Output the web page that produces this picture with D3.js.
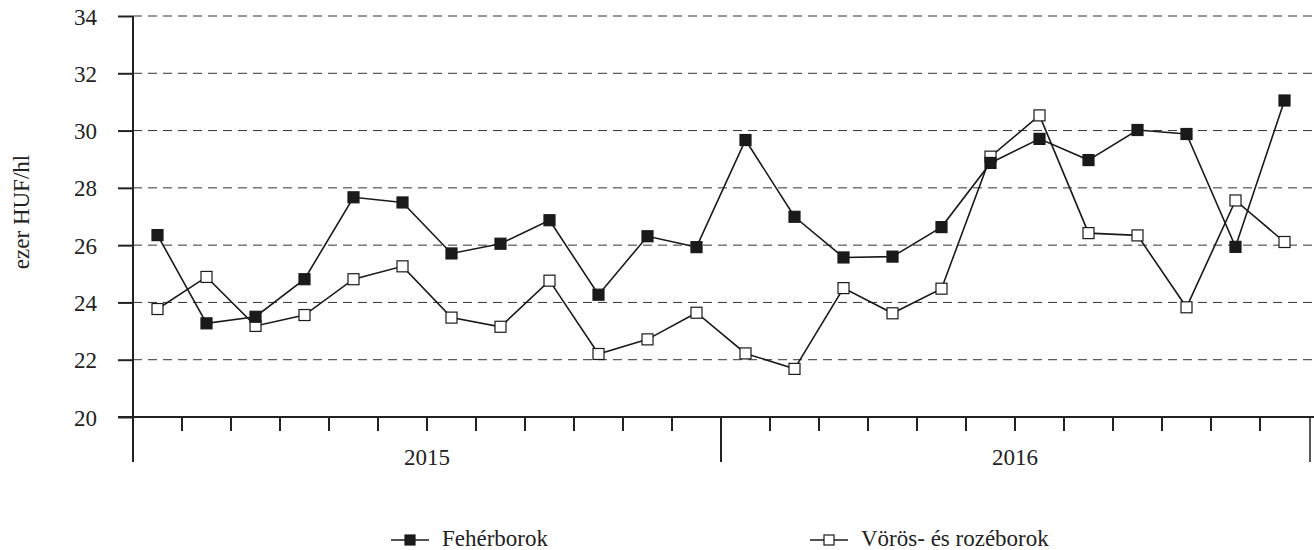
<!DOCTYPE html>
<html>
<head>
<meta charset="utf-8">
<script src="https://d3js.org/d3.v7.min.js"></script>
<style>
  body { margin: 0; background: #fff; }
  svg text { font-family: "Liberation Serif", "Times New Roman", serif; fill: #222; }
</style>
</head>
<body>
<script>
const years = ["2015", "2016"];
const months = d3.range(24);
const yTicks = [20, 22, 24, 26, 28, 30, 32, 34];
const feherborok = [26.35, 23.27, 23.5, 24.81, 27.67, 27.49, 25.71, 26.05, 26.87, 24.27, 26.31, 25.93,
                    29.67, 26.99, 25.57, 25.6, 26.63, 28.87, 29.71, 28.97, 30.02, 29.88, 25.94, 31.05];
const voros = [23.77, 24.89, 23.18, 23.56, 24.81, 25.26, 23.47, 23.15, 24.76, 22.2, 22.71, 23.64,
               22.22, 21.68, 24.5, 23.62, 24.48, 29.09, 30.53, 26.42, 26.34, 23.83, 27.56, 26.11];
const seriesNames = ["Fehérborok", "Vörös- és rozéborok"];

const w = 1314, h = 550;
const padLeft = 133, padRight = 1309, padTop = 16, padBottom = 417;
const font = "'Liberation Serif', 'Times New Roman', serif";
const fs = 23;

const svg = d3.select("body").append("svg").attr("width", w).attr("height", h)
  .attr("font-family", font);

const x = d3.scaleBand().domain(months).range([padLeft, padRight]);
const y = d3.scaleLinear().domain([20, 34]).range([padBottom, padTop]);

// gridlines
svg.append("g")
  .selectAll("line")
  .data(yTicks.slice(1))
  .join("line")
  .attr("x1", padLeft).attr("x2", w)
  .attr("y1", d => y(d)).attr("y2", d => y(d))
  .attr("stroke", "#333").attr("stroke-width", 1)
  .attr("stroke-dasharray", "9,6");

// y axis
const yAxis = d3.axisLeft(y).tickValues(yTicks).tickSize(15).tickPadding(21);
const gy = svg.append("g").attr("transform", "translate(" + padLeft + ",0)").call(yAxis)
  .attr("font-family", font).attr("font-size", fs);
gy.select(".domain").remove();
gy.selectAll(".tick line").attr("stroke", "#222").attr("stroke-width", 2);
gy.selectAll(".tick text").attr("fill", "#222").style("font-family", font).attr("dy", "0.35em");
svg.append("line")
  .attr("x1", padLeft).attr("x2", padLeft).attr("y1", padTop).attr("y2", 462)
  .attr("stroke", "#222").attr("stroke-width", 2);

// x axis
svg.append("line")
  .attr("x1", padLeft - 15).attr("x2", w).attr("y1", padBottom).attr("y2", padBottom)
  .attr("stroke", "#222").attr("stroke-width", 2);
svg.append("g")
  .selectAll("line")
  .data(months.slice(1))
  .join("line")
  .attr("x1", d => x(d)).attr("x2", d => x(d))
  .attr("y1", padBottom).attr("y2", d => d % 12 === 0 ? 462 : 431)
  .attr("stroke", "#222").attr("stroke-width", 2);
svg.append("line")
  .attr("x1", padRight + 1).attr("x2", padRight + 1).attr("y1", padBottom).attr("y2", 462)
  .attr("stroke", "#222").attr("stroke-width", 1.5);

svg.append("g")
  .selectAll("text")
  .data(years)
  .join("text")
  .attr("x", (d, i) => (x(i * 12) + x(i * 12 + 11) + x.bandwidth()) / 2)
  .attr("y", 465)
  .attr("text-anchor", "middle")
  .attr("font-size", fs)
  .style("font-family", font)
  .text(d => d);

svg.append("text")
  .attr("transform", "translate(29,212) rotate(-90)")
  .attr("text-anchor", "middle")
  .attr("font-size", fs)
  .style("font-family", font)
  .text("ezer HUF/hl");

// series
const cx = i => x(i) + x.bandwidth() / 2;
const line = d3.line().x((d, i) => cx(i)).y(d => y(d));
const ms = 11;

function drawSeries(data, fill) {
  const g = svg.append("g");
  g.append("path").datum(data).attr("d", line)
    .attr("fill", "none").attr("stroke", "#1a1a1a").attr("stroke-width", 1.6);
  g.selectAll("rect").data(data).join("rect")
    .attr("x", (d, i) => cx(i) - ms / 2).attr("y", d => y(d) - ms / 2)
    .attr("width", ms).attr("height", ms)
    .attr("fill", fill).attr("stroke", "#1a1a1a").attr("stroke-width", 1.2);
}
drawSeries(voros, "#fff");
drawSeries(feherborok, "#1a1a1a");

// legend
const legendX = [391, 810];
const lg = svg.append("g").selectAll("g").data(seriesNames).join("g")
  .attr("transform", (d, i) => "translate(" + legendX[i] + ",540)");
lg.append("line").attr("x1", 0).attr("x2", 38).attr("y1", 0).attr("y2", 0)
  .attr("stroke", "#1a1a1a").attr("stroke-width", 1.6);
lg.append("rect").attr("x", 19 - 5).attr("y", -5).attr("width", 10).attr("height", 10)
  .attr("fill", (d, i) => i === 0 ? "#1a1a1a" : "#fff")
  .attr("stroke", "#1a1a1a").attr("stroke-width", 1.2);
lg.append("text").attr("x", 51).attr("y", 6).attr("font-size", fs)
  .style("font-family", font).text(d => d);
</script>
</body>
</html>
